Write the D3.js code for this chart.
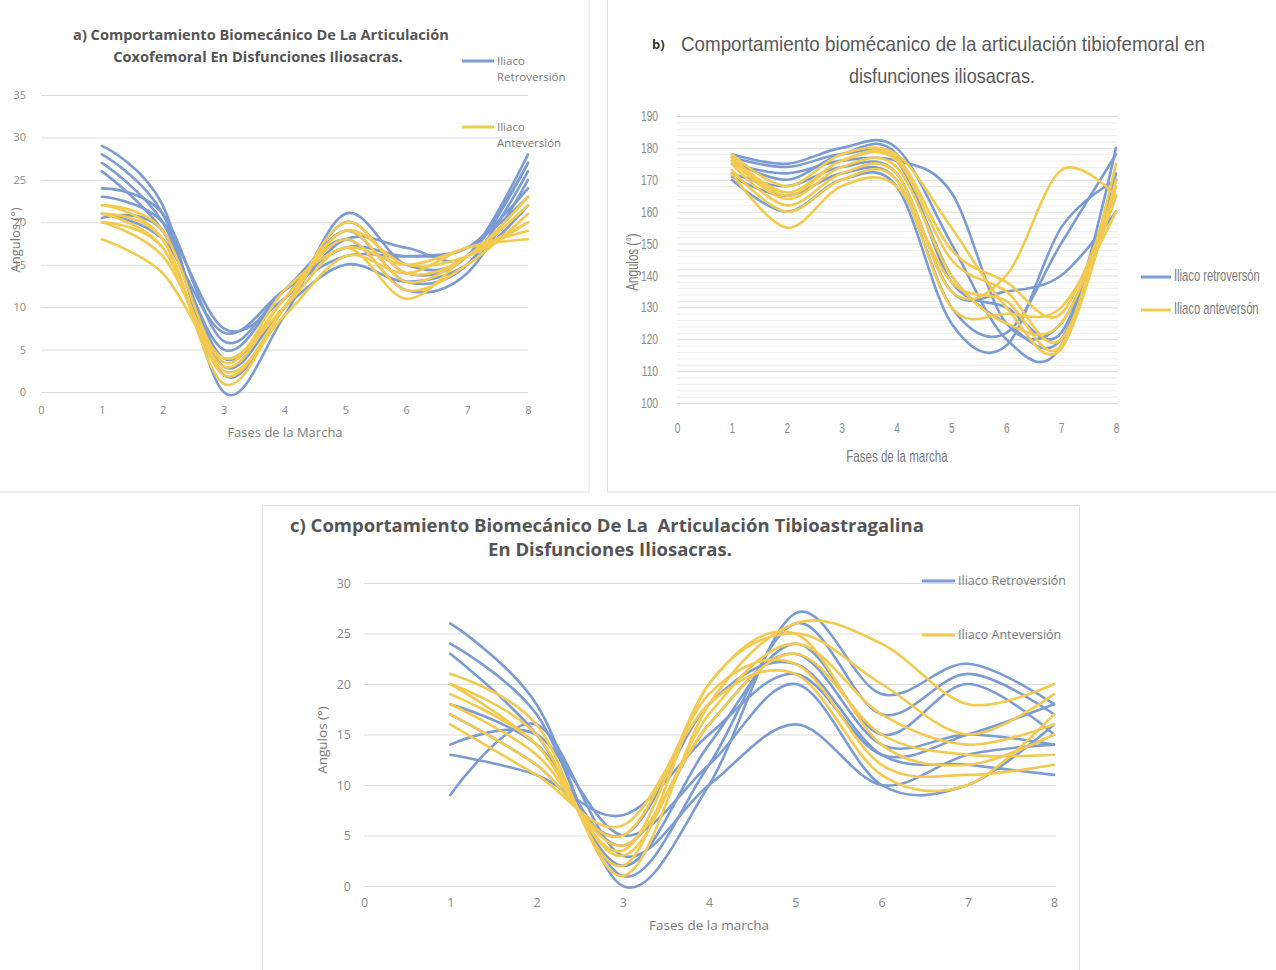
<!DOCTYPE html>
<html>
<head>
<meta charset="utf-8">
<script src="https://cdn.jsdelivr.net/npm/d3@7"></script>
<style>
  body { margin: 0; background: #fff; }
  svg { display: block; }
</style>
</head>
<body>
<svg id="chart" width="1276" height="970"></svg>
<script>
// gait phases on the x axis
const phases = [1, 2, 3, 4, 5, 6, 7, 8];
const xTicks = [0, 1, 2, 3, 4, 5, 6, 7, 8];

// a) coxofemoral
const coxoTicks = [0, 5, 10, 15, 20, 25, 30, 35];
const coxoRetro = [
  [29, 22, 0, 9, 21, 15, 16, 28],
  [28, 21, 2, 10, 20, 14, 16, 27],
  [27, 20, 4, 11, 19, 13, 15, 26],
  [26, 19, 5, 12, 18, 12, 14, 25],
  [24, 21, 6, 12, 17, 16, 17, 24],
  [21, 18, 7, 12, 16, 16, 17, 23],
  [23, 20, 7.5, 11, 18, 17, 16, 27],
  [20.5, 19, 3, 10, 15, 13, 15, 22]
];
const coxoAnte = [
  [22, 18, 1, 10, 20, 14, 16, 23],
  [21, 18, 2, 10, 19, 13, 16, 22],
  [20, 17, 3, 11, 18, 12, 15, 21],
  [18, 14, 4, 10, 17, 11, 16, 20],
  [22, 19, 3.5, 12, 17, 15, 17, 19],
  [21, 17, 2.5, 9, 16, 14, 17, 18],
  [20, 16, 4, 11, 19, 15, 16, 20]
];

// b) tibiofemoral
const tibioTicks = [100, 110, 120, 130, 140, 150, 160, 170, 180, 190];
const tibioRetro = [
  [178, 175, 180, 180, 150, 120, 118, 180],
  [177, 174, 178, 176, 140, 125, 120, 170],
  [175, 172, 176, 176, 166, 125, 125, 165],
  [172, 168, 174, 172, 135, 135, 140, 160],
  [171, 165, 172, 170, 130, 122, 150, 178],
  [170, 160, 170, 168, 125, 118, 155, 170],
  [176, 170, 178, 178, 138, 130, 122, 172]
];
const tibioAnte = [
  [178, 168, 178, 178, 155, 130, 117, 170],
  [177, 166, 176, 176, 145, 135, 120, 168],
  [176, 164, 174, 174, 140, 125, 125, 165],
  [175, 162, 172, 172, 135, 140, 173, 165],
  [173, 160, 170, 170, 130, 128, 130, 160],
  [172, 155, 168, 168, 138, 132, 118, 175],
  [177, 165, 176, 177, 148, 138, 128, 168]
];

// c) tibioastragalina
const astraTicks = [0, 5, 10, 15, 20, 25, 30];
const astraRetro = [
  [26, 18, 0, 10, 27, 19, 22, 18],
  [24, 17, 1, 12, 26, 17, 21, 17],
  [23, 15, 2, 14, 24, 15, 20, 15],
  [18, 14, 4, 16, 23, 14, 15, 14],
  [17, 12, 5, 18, 22, 13, 12, 11],
  [14, 15, 5, 12, 20, 10, 10, 16],
  [13, 11, 7, 15, 21, 13, 15, 18],
  [9, 16, 3, 10, 16, 10, 13, 14]
];
const astraAnte = [
  [21, 16, 1, 18, 26, 24, 18, 20],
  [20, 15, 2, 20, 25, 20, 15, 19],
  [19, 14, 3, 17, 24, 17, 14, 16],
  [18, 13, 4, 16, 23, 15, 13, 13],
  [17, 12, 5, 19, 22, 12, 11, 12],
  [16, 11, 6, 18, 21, 11, 10, 17],
  [20, 14, 3.5, 20, 25, 14, 12, 15]
];

const BLUE = "#7b9bd3";
const YELLOW = "#f3ca50";
const svg = d3.select("#chart");

// squeeze a text horizontally (the source uses a condensed face that isn't installed)
function squeeze(sel, factor) {
  sel.each(function() {
    const w = this.getComputedTextLength();
    d3.select(this).attr("textLength", w * factor).attr("lengthAdjust", "spacingAndGlyphs");
  });
}

// panel frames
svg.append("rect").attr("x", -1).attr("y", -1).attr("width", 590).attr("height", 493)
  .attr("fill", "none").attr("stroke", "#e2e2e2");
svg.append("rect").attr("x", 607.5).attr("y", -1).attr("width", 680).attr("height", 493)
  .attr("fill", "none").attr("stroke", "#e2e2e2");
svg.append("rect").attr("x", 262.5).attr("y", 505.5).attr("width", 817).attr("height", 480)
  .attr("fill", "none").attr("stroke", "#e2e2e2");

function drawPanel(p) {
  const g = svg.append("g");
  const x = d3.scaleLinear().domain([0, 8]).range(p.xRange);
  const y = d3.scaleLinear().domain(d3.extent(p.yTicks)).range(p.yRange);
  const sq = p.squeeze || 1;

  if (p.minor) {
    const minorVals = d3.range(p.yTicks[0], p.yTicks[p.yTicks.length - 1], p.minor)
      .filter(v => !p.yTicks.includes(v));
    g.selectAll(".minor").data(minorVals).enter().append("line")
      .attr("x1", p.xRange[0]).attr("x2", p.gridEnd)
      .attr("y1", d => y(d) + 0.5).attr("y2", d => y(d) + 0.5)
      .attr("stroke", "#eeeeee").attr("stroke-width", 1);
  }

  const yAxis = g.append("g")
    .attr("transform", "translate(" + p.xRange[0] + ",0)")
    .call(d3.axisLeft(y).tickValues(p.yTicks).tickSize(-(p.gridEnd - p.xRange[0])).tickPadding(p.yPad));
  yAxis.select(".domain").remove();
  yAxis.selectAll("line").attr("stroke", "#dcdcdc");
  yAxis.selectAll("text").attr("fill", "#8a8a8a").style("font-family", p.font).style("font-size", p.tickSize + "px");

  const xAxis = g.append("g")
    .attr("transform", "translate(0," + p.yRange[0] + ")")
    .call(d3.axisBottom(x).tickValues(xTicks).tickSize(0).tickPadding(p.xPad));
  xAxis.select(".domain").remove();
  xAxis.selectAll("text").attr("fill", "#8a8a8a").style("font-family", p.font).style("font-size", p.tickSize + "px");
  if (sq !== 1) {
    squeeze(yAxis.selectAll("text"), sq);
    squeeze(xAxis.selectAll("text"), sq);
  }

  const line = d3.line()
    .x((d, i) => x(phases[i]))
    .y(d => y(d))
    .curve(d3.curveCardinal);

  g.selectAll(".retro").data(p.retro).enter().append("path")
    .attr("d", line).attr("fill", "none")
    .attr("stroke", BLUE).attr("stroke-width", p.lw).attr("stroke-linecap", "round");
  g.selectAll(".ante").data(p.ante).enter().append("path")
    .attr("d", line).attr("fill", "none")
    .attr("stroke", YELLOW).attr("stroke-width", p.lw).attr("stroke-linecap", "round");

  // axis titles
  const xt = g.append("text").attr("x", p.xTitle[0]).attr("y", p.xTitle[1])
    .attr("text-anchor", "middle").attr("fill", "#7a7a7a")
    .style("font-family", p.font).style("font-size", p.labelSize + "px")
    .text(p.xLabel);
  const yt = g.append("text")
    .attr("transform", "translate(" + p.yTitle[0] + "," + p.yTitle[1] + ") rotate(-90)")
    .attr("text-anchor", "middle").attr("fill", "#7a7a7a")
    .style("font-family", p.font).style("font-size", p.labelSize + "px")
    .text("Angulos (°)");
  if (sq !== 1) { squeeze(xt, sq); squeeze(yt, sq); }

  // legend (condensed panels get a horizontal scale instead of textLength)
  p.legend.forEach(l => {
    g.append("line").attr("x1", l.x).attr("x2", l.x + p.legLen)
      .attr("y1", l.y).attr("y2", l.y)
      .attr("stroke", l.color).attr("stroke-width", 3);
    const t = g.append("text")
      .attr("transform", "translate(" + (l.x + p.legLen + 3) + "," + (l.y + 4) + ") scale(" + sq + ",1)")
      .attr("fill", "#7a7a7a").style("font-family", p.font).style("font-size", p.legSize + "px");
    l.lines.forEach((s, i) => {
      t.append("tspan").attr("x", 0).attr("dy", i === 0 ? 0 : p.legSize * 1.4).text(s);
    });
  });
  return g;
}

const boldFont = "'Open Sans', 'DejaVu Sans', sans-serif";
const narrowFont = "'Liberation Sans', Arial, sans-serif";

// a)
drawPanel({
  xRange: [41, 528], gridEnd: 528, yRange: [392, 95], yTicks: coxoTicks,
  retro: coxoRetro, ante: coxoAnte, lw: 2.6, font: boldFont,
  tickSize: 11, labelSize: 13, legSize: 11.5, yPad: 15, xPad: 14,
  xLabel: "Fases de la Marcha", xTitle: [285, 437], yTitle: [20, 240],
  legLen: 32,
  legend: [
    { x: 462, y: 61, color: BLUE, lines: ["Iliaco", "Retroversión"] },
    { x: 462, y: 127, color: YELLOW, lines: ["Iliaco", "Anteversión"] }
  ]
});
svg.append("text").attr("x", 261).attr("y", 40).attr("text-anchor", "middle")
  .attr("fill", "#555").style("font-family", boldFont).style("font-weight", "bold").style("font-size", "14.6px")
  .text("a) Comportamiento Biomecánico De La Articulación");
svg.append("text").attr("x", 258).attr("y", 62).attr("text-anchor", "middle")
  .attr("fill", "#555").style("font-family", boldFont).style("font-weight", "bold").style("font-size", "14.6px")
  .text("Coxofemoral En Disfunciones Iliosacras.");

// b)
drawPanel({
  xRange: [677, 1116], gridEnd: 1118, yRange: [403, 116], yTicks: tibioTicks, minor: 2,
  retro: tibioRetro, ante: tibioAnte, lw: 2.6, font: narrowFont, squeeze: 0.7,
  tickSize: 14.5, labelSize: 16.5, legSize: 16, yPad: 19, xPad: 20,
  xLabel: "Fases de la marcha", xTitle: [897, 462], yTitle: [638, 262],
  legLen: 30,
  legend: [
    { x: 1141, y: 277, color: BLUE, lines: ["Iliaco retroversón"] },
    { x: 1141, y: 310, color: YELLOW, lines: ["Iliaco anteversón"] }
  ]
});
svg.append("text").attr("x", 652).attr("y", 49)
  .attr("fill", "#333").style("font-family", boldFont).style("font-weight", "bold").style("font-size", "13px")
  .text("b)");
svg.append("text").attr("x", 681).attr("y", 51)
  .attr("textLength", 524).attr("lengthAdjust", "spacingAndGlyphs")
  .attr("fill", "#595959").style("font-family", narrowFont).style("font-size", "21px")
  .text("Comportamiento biomécanico de la articulación tibiofemoral en");
svg.append("text").attr("x", 849).attr("y", 83)
  .attr("textLength", 186).attr("lengthAdjust", "spacingAndGlyphs")
  .attr("fill", "#595959").style("font-family", narrowFont).style("font-size", "21px")
  .text("disfunciones iliosacras.");

// c)
drawPanel({
  xRange: [364, 1054], gridEnd: 1056, yRange: [886, 583], yTicks: astraTicks,
  retro: astraRetro, ante: astraAnte, lw: 2.6, font: boldFont,
  tickSize: 12.5, labelSize: 13.5, legSize: 12.5, yPad: 13, xPad: 12,
  xLabel: "Fases de la marcha", xTitle: [709, 930], yTitle: [327, 740],
  legLen: 33,
  legend: [
    { x: 922, y: 581, color: BLUE, lines: ["Iliaco Retroversión"] },
    { x: 922, y: 635, color: YELLOW, lines: ["Iliaco Anteversión"] }
  ]
});
svg.append("text").attr("x", 290).attr("y", 532)
  .attr("fill", "#555").style("font-family", boldFont).style("font-weight", "bold").style("font-size", "18.5px")
  .style("white-space", "pre")
  .text("c) Comportamiento Biomecánico De La  Articulación Tibioastragalina");
svg.append("text").attr("x", 610).attr("y", 556).attr("text-anchor", "middle")
  .attr("fill", "#555").style("font-family", boldFont).style("font-weight", "bold").style("font-size", "18.5px")
  .text("En Disfunciones Iliosacras.");
</script>
</body>
</html>
